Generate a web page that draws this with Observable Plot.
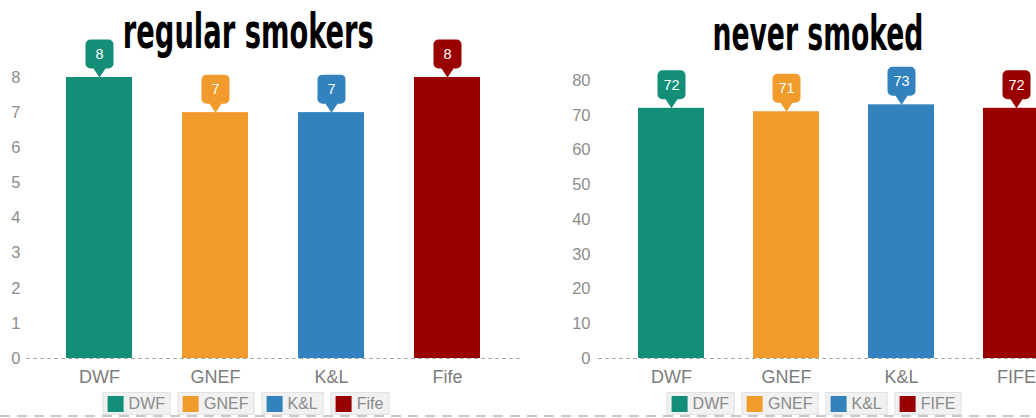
<!DOCTYPE html>
<html>
<head>
<meta charset="utf-8">
<script src="https://cdn.jsdelivr.net/npm/d3@7"></script>
<script src="https://cdn.jsdelivr.net/npm/@observablehq/plot@0.6"></script>
<style>
  html, body { margin: 0; padding: 0; background: #fff; }
  body { width: 1036px; height: 418px; overflow: hidden; position: relative; font-family: "Liberation Sans", Arial, sans-serif; }
  .panel { position: absolute; top: 40px; }
  .panel svg { max-width: none !important; display: block; }
  .title { position: absolute; white-space: nowrap; font-family: "DejaVu Sans Condensed", "DejaVu Sans", sans-serif; font-weight: bold; font-size: 48px; line-height: 48px; color: #000; transform-origin: center top; }
  .legend { position: absolute; top: 392px; display: flex; gap: 7px; transform: translateX(-50%); }
  .item { display: flex; align-items: center; height: 21px; padding: 0 5px 0 4px; background: #f1f1f1; border: 1px solid #e2e2e2; font-size: 16px; color: #8a8a8a; }
  .sw { width: 16px; height: 16px; margin-right: 5px; }
  .dash { position: absolute; left: 0; top: 415px; width: 1036px; height: 2px; background: repeating-linear-gradient(to right, #c8c8c8 0 10px, transparent 10px 17px); }
</style>
</head>
<body>
<script>
// ---- data ----
const categoriesLeft = ["DWF", "GNEF", "K&L", "Fife"];
const regularSmokers = [8, 7, 7, 8];
const ticksLeft = [0, 1, 2, 3, 4, 5, 6, 7, 8];

const categoriesRight = ["DWF", "GNEF", "K&L", "FIFE"];
const neverSmoked = [72, 71, 73, 72];
const ticksRight = [0, 10, 20, 30, 40, 50, 60, 70, 80];

const colors = ["#148f77", "#f19b2c", "#3182bd", "#990000"];
const titles = ["regular smokers", "never smoked"];

// callout bubble symbol: tip at (0,0), box above
const callout = {
  draw(ctx) {
    const w = 28, top = -38, bottom = -9, r = 5, hw = 6;
    const L = -w / 2, R = w / 2;
    ctx.moveTo(0, 0);
    ctx.lineTo(-hw, bottom);
    ctx.lineTo(L + r, bottom);
    ctx.arcTo(L, bottom, L, bottom - r, r);
    ctx.lineTo(L, top + r);
    ctx.arcTo(L, top, L + r, top, r);
    ctx.lineTo(R - r, top);
    ctx.arcTo(R, top, R, top + r, r);
    ctx.lineTo(R, bottom - r);
    ctx.arcTo(R, bottom, R - r, bottom, r);
    ctx.lineTo(hw, bottom);
    ctx.closePath();
  }
};

function chart(cats, vals, ticks, opts) {
  const data = cats.map((c, i) => ({cat: c, value: vals[i]}));
  return Plot.plot({
    width: opts.width,
    height: 352,
    marginLeft: opts.marginLeft,
    marginRight: 0,
    marginTop: opts.marginTop,
    marginBottom: 34,
    style: {fontFamily: "'Liberation Sans', Arial, sans-serif", background: "transparent", overflow: "visible"},
    x: {domain: cats, paddingInner: opts.pi, paddingOuter: opts.po, axis: null, label: null},
    y: {domain: [ticks[0], ticks[ticks.length - 1]], axis: null, label: null},
    color: {domain: cats, range: colors},
    marks: [
      Plot.barY(data, {x: "cat", y: "value", fill: "cat"}),
      Plot.ruleY([0], {stroke: "#a8a8a8", strokeDasharray: "4,3", strokeWidth: 1}),
      Plot.axisY({ticks, tickSize: 0, tickPadding: opts.tp, fontSize: 16.5, color: "#8c8c8c", label: null}),
      Plot.axisX({tickSize: 0, tickPadding: 12, fontSize: 18, color: "#7c7c7c", label: null}),
      Plot.dot(data, {x: "cat", y: "value", fill: "cat", symbol: callout, r: 1, stroke: null}),
      Plot.text(data, {x: "cat", y: "value", text: d => String(d.value), dy: -23, fill: "#fff", fontSize: 14.5})
    ]
  });
}

function panel(left, width, svg) {
  const d = document.createElement("div");
  d.className = "panel";
  d.style.left = left + "px";
  d.style.width = width + "px";
  d.appendChild(svg);
  document.body.appendChild(d);
}

panel(0, 520, chart(categoriesLeft, regularSmokers, ticksLeft, {width: 520, marginLeft: 26, marginTop: 37, pi: 0.4274, po: 0.325, tp: 6}));
panel(520, 569, chart(categoriesRight, neverSmoked, ticksRight, {width: 569, marginLeft: 78, marginTop: 40, pi: 0.4286, po: 0.338, tp: 8}));

// titles
function title(text, cx, top, targetW) {
  const t = document.createElement("div");
  t.className = "title";
  t.textContent = text;
  document.body.appendChild(t);
  const w = t.getBoundingClientRect().width;
  t.style.left = (cx - w / 2) + "px";
  t.style.top = top + "px";
  t.style.transform = `scaleX(${targetW / w})`;
}
title(titles[0], 248, 7, 251);
title(titles[1], 818, 9, 211);

// legends
function legend(cats, cx) {
  const l = document.createElement("div");
  l.className = "legend";
  l.style.left = cx + "px";
  cats.forEach((c, i) => {
    const it = document.createElement("div");
    it.className = "item";
    const sw = document.createElement("div");
    sw.className = "sw";
    sw.style.background = colors[i];
    it.appendChild(sw);
    it.appendChild(document.createTextNode(c));
    l.appendChild(it);
  });
  document.body.appendChild(l);
}
legend(categoriesLeft, 246);
legend(categoriesRight, 814);

const dash = document.createElement("div");
dash.className = "dash";
document.body.appendChild(dash);
</script>
</body>
</html>
